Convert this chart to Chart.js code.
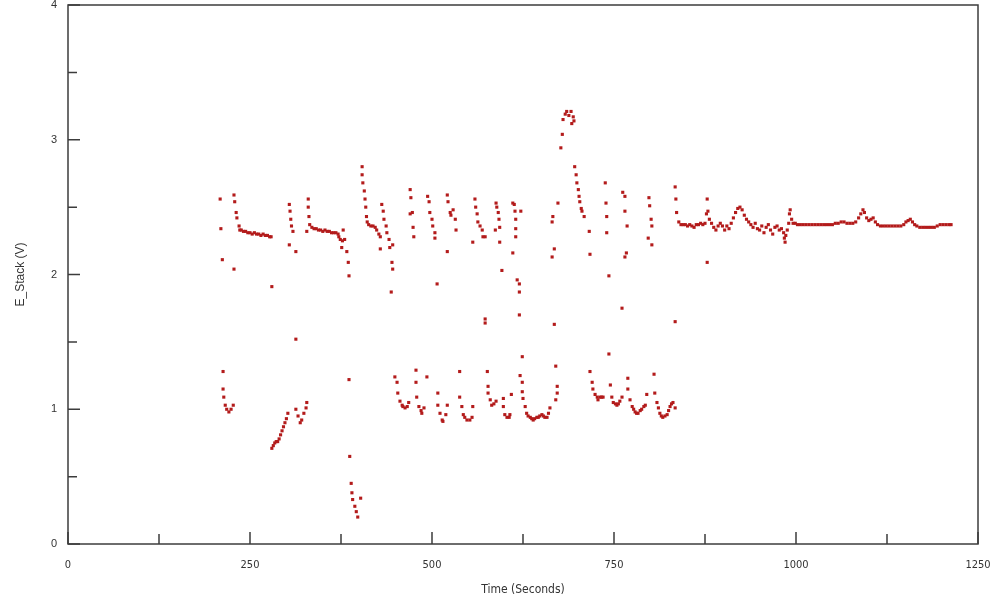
<!DOCTYPE html>
<html>
<head>
<meta charset="utf-8">
<script src="https://cdn.jsdelivr.net/npm/chart.js@4/dist/chart.umd.min.js"></script>
<style>
  body { margin: 0; background: #fff; }
</style>
</head>
<body>
<canvas id="stackChart" width="994" height="606"></canvas>
<script>
// upper band: spikes and decays around 2.3 V (plus a few stray mid points)
const highTime = [209, 210, 212, 228, 228, 229, 231, 232, 235, 236, 238, 241, 244, 247, 250, 253, 256, 259, 262, 265, 268, 271, 274, 277, 279, 280,
  304, 304, 305, 306, 307, 309, 313, 328, 330, 330, 331, 332, 335, 338, 341, 344, 347, 350, 353, 356, 359, 362, 365, 368, 371, 372, 374, 376, 377, 378, 380, 383, 385, 386,
  404, 404, 405, 407, 408, 409, 410, 411, 413, 416, 419, 422, 424, 427, 429, 429, 431, 433, 434, 437, 438, 441, 442, 444, 445, 446, 446,
  470, 470, 471, 473, 474, 475, 494, 496, 497, 500, 501, 504, 504, 507, 521, 521, 522, 525, 526, 529, 532, 533,
  556, 559, 560, 562, 563, 566, 569, 570, 573, 573, 573, 587, 588, 589, 591, 592, 593, 593, 596,
  611, 611, 613, 614, 615, 615, 615, 617, 620, 620, 620, 622, 624, 665, 665, 666, 668, 668, 670, 673,
  677, 679, 680, 683, 685, 688, 691, 692, 694, 695, 696, 698, 699, 701, 702, 703, 705, 706, 709, 716, 717,
  738, 739, 740, 740, 743, 743, 761, 762, 765, 765, 765, 767, 768, 797, 798, 799, 801, 802, 802, 834, 834, 835, 836, 878];
const highVolts = [2.56, 2.34, 2.11, 2.59, 2.04, 2.54, 2.46, 2.42, 2.36, 2.33, 2.33, 2.32, 2.32, 2.31, 2.31, 2.30, 2.31, 2.30, 2.30, 2.29, 2.30, 2.29, 2.29, 2.28, 2.28, 1.91,
  2.52, 2.22, 2.47, 2.41, 2.36, 2.32, 2.17, 2.32, 2.56, 2.50, 2.43, 2.37, 2.35, 2.34, 2.34, 2.33, 2.33, 2.32, 2.33, 2.32, 2.32, 2.31, 2.31, 2.31, 2.30, 2.28, 2.26, 2.20, 2.25, 2.33, 2.26, 2.17, 2.09, 1.99,
  2.80, 2.74, 2.68, 2.62, 2.56, 2.50, 2.43, 2.39, 2.37, 2.36, 2.36, 2.35, 2.33, 2.30, 2.28, 2.19, 2.52, 2.47, 2.41, 2.36, 2.31, 2.26, 2.20, 1.87, 2.09, 2.04, 2.22,
  2.63, 2.45, 2.57, 2.46, 2.35, 2.28, 2.58, 2.54, 2.46, 2.41, 2.36, 2.31, 2.27, 1.93, 2.59, 2.17, 2.54, 2.46, 2.44, 2.48, 2.41, 2.33,
  2.24, 2.56, 2.50, 2.45, 2.39, 2.36, 2.33, 2.28, 2.28, 1.67, 1.64, 2.33, 2.53, 2.50, 2.46, 2.41, 2.35, 2.24, 2.03,
  2.53, 2.16, 2.52, 2.47, 2.41, 2.34, 2.28, 1.96, 1.93, 1.87, 1.70, 2.47, 1.39, 2.39, 2.13, 2.43, 2.19, 1.63, 1.32, 2.53,
  2.94, 3.04, 3.15, 3.19, 3.21, 3.18, 3.21, 3.12, 3.17, 3.14, 2.80, 2.74, 2.68, 2.63, 2.58, 2.54, 2.49, 2.47, 2.43, 2.32, 2.15,
  2.68, 2.53, 2.43, 2.31, 1.99, 1.41, 1.75, 2.61, 2.58, 2.47, 2.13, 2.16, 2.36, 2.27, 2.57, 2.51, 2.41, 2.36, 2.22, 1.65, 2.65, 2.56, 2.46, 2.09];

// lower band: dips around 1 V
const lowTime = [213, 213, 214, 216, 218, 221, 224, 227, 280, 282, 284, 286, 288, 290, 292, 294, 296, 298, 300, 302,
  313, 313, 316, 319, 321, 324, 327, 328, 386, 387, 389, 390, 391, 394, 396, 398, 402,
  449, 452, 453, 456, 459, 460, 463, 466, 468, 478, 478, 479, 482, 485, 486, 489, 493, 508, 508, 511, 514, 515, 519, 521,
  538, 538, 541, 543, 545, 548, 552, 555, 556, 576, 577, 577, 580, 582, 585, 588, 598, 598, 600, 603, 606, 607, 609,
  621, 624, 624, 625, 628, 630, 632, 635, 637, 639, 641, 644, 646, 648, 651, 653, 655, 658, 660, 662, 670, 672, 672,
  717, 720, 721, 724, 727, 728, 731, 733, 735, 745, 747, 749, 752, 754, 756, 758, 761,
  769, 769, 772, 775, 777, 779, 781, 783, 786, 788, 791, 793, 795, 805, 806, 809, 811, 813, 815, 817, 820, 823, 825, 827, 829, 831, 834];
const lowVolts = [1.28, 1.15, 1.09, 1.03, 1.00, 0.98, 1.00, 1.03, 0.71, 0.73, 0.75, 0.76, 0.76, 0.78, 0.81, 0.84, 0.87, 0.90, 0.93, 0.97,
  1.52, 1.00, 0.95, 0.90, 0.92, 0.97, 1.01, 1.05, 1.22, 0.65, 0.45, 0.38, 0.33, 0.28, 0.24, 0.20, 0.34,
  1.24, 1.20, 1.12, 1.06, 1.03, 1.02, 1.01, 1.02, 1.05, 1.29, 1.20, 1.09, 1.02, 0.99, 0.97, 1.01, 1.24, 1.12, 1.03, 0.97, 0.92, 0.91, 0.96, 1.03,
  1.28, 1.09, 1.02, 0.96, 0.94, 0.92, 0.92, 0.94, 1.02, 1.28, 1.17, 1.12, 1.07, 1.03, 1.04, 1.06, 1.08, 1.02, 0.96, 0.94, 0.94, 0.96, 1.11,
  1.25, 1.20, 1.13, 1.08, 1.02, 0.97, 0.95, 0.94, 0.93, 0.92, 0.93, 0.94, 0.94, 0.95, 0.96, 0.95, 0.94, 0.94, 0.97, 1.01, 1.07, 1.12, 1.17,
  1.28, 1.20, 1.15, 1.11, 1.09, 1.07, 1.09, 1.09, 1.09, 1.18, 1.09, 1.05, 1.04, 1.03, 1.04, 1.06, 1.09,
  1.23, 1.15, 1.07, 1.02, 1.00, 0.98, 0.97, 0.97, 0.99, 1.00, 1.02, 1.03, 1.11, 1.26, 1.12, 1.05, 1.01, 0.97, 0.95, 0.94, 0.95, 0.96, 0.99, 1.02, 1.04, 1.05, 1.01];

// steady trace after the transients
const steadyTime = [839, 842, 845, 848, 851, 854, 857, 860, 863, 866, 869, 872, 875, 877, 878, 879, 881, 884, 887, 890, 893, 896, 899, 902, 905, 908,
  911, 914, 917, 920, 923, 926, 929, 932, 935, 938, 941, 944, 947, 950, 953, 956, 959, 962, 965, 968, 971, 974, 977, 980, 983, 984, 985, 986, 988,
  990, 991, 992, 994, 996, 999, 1002, 1006, 1010, 1014, 1018, 1022, 1026, 1030, 1034, 1038, 1042, 1046, 1050, 1054, 1058, 1062, 1066, 1070, 1074,
  1078, 1082, 1086, 1089, 1092, 1094, 1097, 1100, 1103, 1106, 1109, 1112, 1116, 1120, 1124, 1128, 1132, 1136, 1140, 1144, 1148, 1151, 1154, 1157,
  1160, 1163, 1166, 1170, 1174, 1178, 1182, 1186, 1190, 1194, 1198, 1202, 1206, 1210, 1213];
const steadyVolts = [2.39, 2.37, 2.37, 2.37, 2.36, 2.37, 2.36, 2.35, 2.37, 2.37, 2.38, 2.37, 2.38, 2.45, 2.56, 2.47, 2.41, 2.38, 2.35, 2.33, 2.36, 2.38, 2.36, 2.33, 2.36, 2.34,
  2.38, 2.42, 2.46, 2.49, 2.50, 2.48, 2.44, 2.41, 2.39, 2.37, 2.35, 2.38, 2.34, 2.33, 2.36, 2.31, 2.35, 2.37, 2.33, 2.30, 2.35, 2.36, 2.33, 2.34, 2.31, 2.27, 2.24, 2.29, 2.33,
  2.38, 2.45, 2.48, 2.41, 2.38, 2.38, 2.37, 2.37, 2.37, 2.37, 2.37, 2.37, 2.37, 2.37, 2.37, 2.37, 2.37, 2.37, 2.37, 2.38, 2.38, 2.39, 2.39, 2.38, 2.38,
  2.38, 2.39, 2.42, 2.45, 2.48, 2.46, 2.42, 2.40, 2.41, 2.42, 2.39, 2.37, 2.36, 2.36, 2.36, 2.36, 2.36, 2.36, 2.36, 2.36, 2.37, 2.39, 2.40, 2.41,
  2.39, 2.37, 2.36, 2.35, 2.35, 2.35, 2.35, 2.35, 2.35, 2.36, 2.37, 2.37, 2.37, 2.37, 2.37];

const xTicks = { min: 0, max: 1250, step: 125, labelEvery: 250 };
const yTicks = { min: 0, max: 4, step: 0.5, labelEvery: 1 };

const dotColor = '#b31b1b';
const axisColor = '#3c3c3c';

function pairs(xs, ys) {
  return xs.map((t, i) => ({ x: t, y: ys[i] }));
}

function dotSet(label, xs, ys) {
  return {
    label: label,
    data: pairs(xs, ys),
    pointStyle: 'rect',
    pointRadius: 2.2,
    pointBorderWidth: 0,
    pointBackgroundColor: dotColor,
    showLine: false
  };
}

// frame round the plot and inward tick marks
const frameTicks = {
  id: 'frameTicks',
  afterDatasetsDraw(chart) {
    const { ctx, chartArea: a, scales: { x, y } } = chart;
    ctx.save();
    ctx.strokeStyle = axisColor;
    ctx.lineWidth = 1.5;
    ctx.strokeRect(a.left, a.top, a.right - a.left, a.bottom - a.top);
    ctx.beginPath();
    x.ticks.forEach(t => {
      const px = x.getPixelForValue(t.value);
      const len = t.value % xTicks.labelEvery === 0 ? 12 : 10;
      ctx.moveTo(px, a.bottom);
      ctx.lineTo(px, a.bottom - len);
    });
    y.ticks.forEach(t => {
      const py = y.getPixelForValue(t.value);
      const len = t.value % yTicks.labelEvery === 0 ? 12 : 9;
      ctx.moveTo(a.left, py);
      ctx.lineTo(a.left + len, py);
    });
    ctx.stroke();
    ctx.restore();
  }
};

const ctx = document.getElementById('stackChart').getContext('2d');
const stackChart = new Chart(ctx, {
  type: 'scatter',
  data: {
    datasets: [
      dotSet('High', highTime, highVolts),
      dotSet('Low', lowTime, lowVolts),
      dotSet('Steady', steadyTime, steadyVolts)
    ]
  },
  options: {
    responsive: false,
    animation: false,
    layout: { padding: { left: 0, right: 16, top: 5, bottom: 0 } },
    plugins: { legend: { display: false }, tooltip: { enabled: false } },
    scales: {
      x: {
        type: 'linear',
        min: xTicks.min,
        max: xTicks.max,
        afterFit: s => { s.height = 62; s.paddingLeft = 0; s.paddingRight = 0; },
        grid: { display: false, drawTicks: false },
        border: { display: false },
        ticks: {
          stepSize: xTicks.step,
          autoSkip: false,
          maxRotation: 0,
          padding: 15,
          color: '#333',
          font: { family: "'Liberation Sans Narrow', 'DejaVu Sans Condensed', sans-serif", size: 11 },
          callback: v => (v % xTicks.labelEvery === 0 ? v : '')
        },
        title: {
          display: true,
          text: 'Time (Seconds)',
          color: '#333',
          padding: { top: 0, bottom: 9 },
          font: { family: "'Liberation Sans Narrow', 'DejaVu Sans Condensed', sans-serif", size: 12 }
        }
      },
      y: {
        min: yTicks.min,
        max: yTicks.max,
        afterFit: s => { s.width = 68; s.paddingTop = 0; s.paddingBottom = 0; },
        grid: { display: false, drawTicks: false },
        border: { display: false },
        ticks: {
          stepSize: yTicks.step,
          padding: 11,
          color: '#333',
          font: { family: "'Liberation Sans', Arial, sans-serif", size: 11 },
          callback: v => (v % yTicks.labelEvery === 0 ? v : '')
        },
        title: {
          display: true,
          text: 'E_Stack (V)',
          color: '#333',
          padding: { top: 13, bottom: 0 },
          font: { family: "'Liberation Sans', Arial, sans-serif", size: 12 }
        }
      }
    }
  },
  plugins: [frameTicks]
});
</script>
</body>
</html>
